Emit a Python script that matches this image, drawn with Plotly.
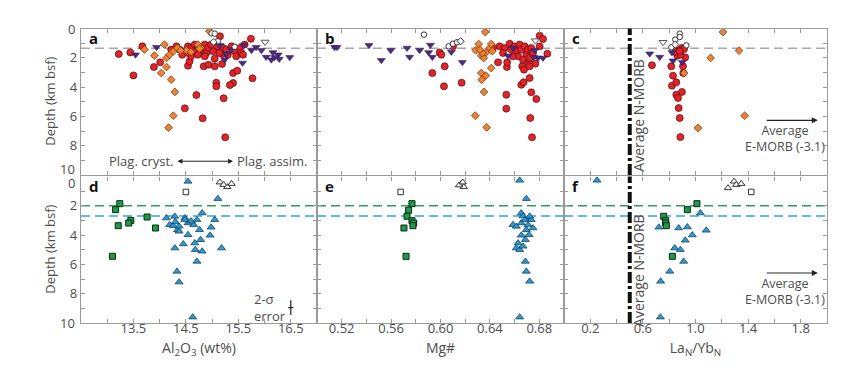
import plotly.graph_objects as go

# ---------------- DATA ----------------
# Panel a (Al2O3 wt%, depth km)
A_RED_X = [13.22,13.44,13.50,13.67,13.89,14.01,14.54,14.57,14.70,14.48,14.82,15.25,15.22,15.08,15.08,15.40,15.34,15.40,15.48,15.77,15.74,15.15,14.84,14.93,15.05,15.05,15.19,15.19,14.84,
           14.32,14.38,14.48,14.54,14.60,14.67,14.70,14.73,14.79,14.86,14.89,14.92,14.98,15.02,15.11,15.21,15.27,15.30,15.37,15.43,15.46,15.53,15.56,15.62,15.59,15.14,14.86,14.73,14.60,14.54,14.22,14.43]
A_RED_D = [1.74,1.63,3.20,1.22,2.63,2.31,2.54,2.24,4.54,5.45,6.13,7.43,4.76,3.70,3.95,3.72,3.86,3.04,2.88,3.40,0.70,0.53,2.58,2.47,2.58,2.06,2.42,1.74,1.63,
           1.22,1.44,1.56,1.22,1.33,1.10,1.56,1.22,1.44,1.10,1.67,1.33,1.10,1.56,1.22,1.33,1.44,1.79,1.22,1.56,1.90,1.33,1.67,1.10,1.79,1.67,1.90,1.79,1.90,1.67,1.44,1.79]
A_ORA_X = [14.95,14.09,13.90,13.71,14.13,14.03,14.22,14.29,14.26,14.17,14.13,14.19,14.26,14.34,14.51,14.79,14.73,14.60,14.40,14.76]
A_ORA_D = [0.19,1.10,1.85,1.44,2.63,3.04,3.49,4.33,5.95,6.77,2.01,1.79,1.56,1.33,1.49,1.33,1.10,1.60,1.50,1.38]
A_PUR_X = [13.54,13.94,15.24,15.58,15.60,15.15,15.75,15.84,15.94,16.03,16.13,16.16,16.26,16.28,16.48,16.19,15.27,15.37]
A_PUR_D = [1.79,1.28,2.13,2.35,1.15,1.15,1.49,1.28,1.49,1.95,2.13,1.63,1.79,2.08,1.97,1.97,1.74,1.44]
A_OCI_X = [14.99,15.05,15.43,15.11]
A_OCI_D = [0.33,0.35,1.25,0.87]
A_ODI_X = [15.03]
A_ODI_D = [0.92]
A_OTD_X = [16.01]
A_OTD_D = [0.92]

# Panel b (Mg#, depth)
B_RED_X = [0.5993,0.6007,0.5934,0.6034,0.6028,0.6171,0.6101,0.6466,0.6533,0.6533,0.6538,0.6540,0.6654,0.6673,0.6662,0.6676,0.6717,0.6735,0.6727,0.6741,
           0.6803,0.6830,0.6803,0.6865,0.6768,0.6776,0.6722,0.6722,
           0.6479,0.6520,0.6560,0.6601,0.6614,0.6641,0.6654,0.6682,0.6695,0.6709,0.6722,0.6628,0.6587,0.6506,0.6425,0.6735,0.6573,0.6668,0.6749]
B_RED_D = [1.63,1.79,3.04,2.58,3.95,3.70,1.22,2.31,4.52,5.47,2.63,2.31,3.84,3.67,2.58,2.81,2.35,4.36,6.11,7.43,
           0.49,0.72,1.22,1.72,2.40,4.81,3.38,2.58,
           1.22,1.33,1.04,1.22,1.56,1.10,1.44,1.22,1.79,1.44,2.01,1.90,1.90,1.67,1.33,1.33,1.44,2.13,1.67]
B_ORA_X = [0.6363,0.6309,0.6285,0.6330,0.6350,0.6370,0.6398,0.6411,0.6411,0.6330,0.6366,0.6334,0.6352,0.6282,0.6374,0.6339,0.6320,0.6420]
B_ORA_D = [0.24,1.06,1.49,1.86,2.01,1.63,1.33,1.06,2.70,3.04,3.22,3.49,4.33,5.95,6.75,1.67,1.44,1.55]
B_PUR_X = [0.5143,0.5162,0.5421,0.5521,0.5597,0.5729,0.5750,0.5831,0.5904,0.5918,0.5934,0.6088,0.6177,0.6547,0.6587,0.6790,0.6830,0.6763,0.6757]
B_PUR_D = [1.28,1.28,1.15,2.17,1.49,1.33,1.95,1.49,1.63,1.13,1.95,1.60,2.31,1.86,1.33,2.01,2.01,1.49,1.97]
B_OCI_X = [0.5866,0.6066,0.6101,0.6134]
B_OCI_D = [0.42,1.22,1.04,0.94]
B_ODI_X = [0.6163]
B_ODI_D = [0.87]
B_OTD_X = [0.6768]
B_OTD_D = [0.83]

# Panel c (La_N/Yb_N, depth)
C_RED_X = [0.669,0.816,0.829,0.821,0.854,0.854,0.867,0.897,0.872,0.880,0.885,0.862,0.872,0.897,0.913,0.922,0.885,0.905,0.907,0.850,0.880]
C_RED_D = [2.51,2.58,3.22,3.90,3.67,4.52,4.74,4.33,5.43,6.11,7.41,1.86,1.49,1.33,1.40,1.97,1.79,2.58,3.04,1.60,1.55]
C_ORA_X = [0.913,1.115,1.019,1.209,1.331,1.374]
C_ORA_D = [3.04,2.01,6.79,0.24,1.51,5.95]
C_PUR_X = [0.652,0.728,0.829,0.900,0.821]
C_PUR_D = [1.72,1.95,2.20,2.31,1.63]
C_OCI_X = [0.816,0.846,0.880,0.880,0.930]
C_OCI_D = [1.28,0.76,0.35,0.58,1.15]
C_ODI_X = [0.846]
C_ODI_D = [1.10]
C_OTD_X = [0.753]
C_OTD_D = [0.94]

# Panel d (Al2O3, depth)
D_BLU_X = [14.54,15.11,14.81,14.13,14.29,14.48,14.71,15.05,14.19,14.26,14.34,14.37,14.54,14.65,14.76,14.98,14.96,14.54,14.78,14.67,14.45,14.29,14.68,14.81,15.18,14.71,14.33,14.37,14.63,14.30,14.48,14.60,14.37]
D_BLU_D = [0.34,1.52,2.50,2.84,2.73,2.84,2.96,2.96,3.30,3.36,3.64,3.75,3.18,3.30,3.64,3.47,4.02,3.98,4.32,4.55,4.61,4.89,5.00,5.11,4.89,5.80,6.48,7.21,9.60,3.10,2.96,3.05,3.40]
D_GRN_X = [13.24,13.16,13.45,13.41,13.21,13.76,13.92,13.10]
D_GRN_D = [1.86,2.27,3.00,3.18,3.36,2.77,3.52,5.45]
D_OTR_X = [15.15,15.22,15.29,15.37]
D_OTR_D = [0.40,0.57,0.72,0.50]
D_OSQ_X = [14.50]
D_OSQ_D = [1.06]

# Panel e (Mg#, depth)
E_BLU_X = [0.6641,0.6695,0.6654,0.6668,0.6717,0.6587,0.6614,0.6654,0.6695,0.6654,0.6687,0.6628,0.6614,0.6641,0.6668,0.6717,0.6687,0.6695,0.6722,0.6641,0.6735,0.6709,0.6682,0.6749,0.6722]
E_BLU_D = [0.27,1.52,2.50,2.70,2.84,3.30,3.41,3.18,3.64,4.02,4.32,4.55,4.89,5.00,4.77,3.98,5.80,6.48,7.16,9.60,2.96,3.30,2.96,3.52,2.72]
E_GRN_X = [0.5769,0.5742,0.5729,0.5769,0.5783,0.5777,0.5704,0.5721]
E_GRN_D = [1.86,2.31,2.72,3.02,3.18,3.36,3.52,5.45]
E_OTR_X = [0.6168,0.6188,0.6150,0.6180]
E_OTR_D = [0.50,0.72,0.60,0.40]
E_OSQ_X = [0.5677]
E_OSQ_D = [1.06]

# Panel f (La_N/Yb_N, depth)
F_BLU_X = [0.251,1.037,0.722,0.872,0.938,1.082,0.976,0.922,0.842,0.885,0.910,0.804,0.735,0.733]
F_BLU_D = [0.27,2.50,3.47,3.52,3.45,3.68,4.00,4.36,4.89,5.00,5.80,6.48,7.16,9.60]
F_GRN_X = [1.011,0.938,0.758,0.773,0.773,0.778,0.824]
F_GRN_D = [1.86,2.27,2.72,3.02,3.18,3.36,5.45]
F_OTR_X = [1.247,1.293,1.310,1.348]
F_OTR_D = [0.79,0.34,0.57,0.50]
F_OSQ_X = [1.424]
F_OSQ_D = [1.06]

# reference lines / annotation values
TOP_DASH_DEPTH = 1.35
GREEN_DASH_DEPTH = 2.0
BLUE_DASH_DEPTH = 2.7
NMORB_LA_YB = 0.5
ERR_X, ERR_Y, ERR_DX, ERR_DY = 16.5, 8.95, 0.05, 0.5

X_RANGES = [[12.5, 17.0], [0.50, 0.70], [0.0, 2.0]]
X_MAJOR = [[13.5, 14.5, 15.5, 16.5], [0.52, 0.56, 0.60, 0.64, 0.68], [0.2, 0.6, 1.0, 1.4, 1.8]]
X_LABELS = [["13.5", "14.5", "15.5", "16.5"], ["0.52", "0.56", "0.60", "0.64", "0.68"], ["0.2", "0.6", "1.0", "1.4", "1.8"]]
X_MINOR = [[13.0, 14.0, 15.0, 16.0], [0.54, 0.58, 0.62, 0.66], [0.4, 0.8, 1.2, 1.6]]
Y_MAJOR = [2, 4, 6, 8]
Y_LABELS = ["2", "4", "6", "8"]
Y_MINOR = [1, 3, 5, 7, 9]
X_TITLES = ["Al<sub>2</sub>O<sub>3</sub> (wt%)", "Mg#", "La<sub>N</sub>/Yb<sub>N</sub>"]
PANEL_LETTERS = ["a", "b", "c", "d", "e", "f"]

# ---------------- FIGURE ----------------
W, H = 854, 369
FONT = "Open Sans"
TXT = "#4d4d4d"
AX = "#9a9a9a"

XDOM = [(73, 309), (309, 556), (556, 819)]
YDOM = [(20.5, 167), (168.4, 315)]

fig = go.Figure()

RED = dict(symbol="circle", size=7, color="#e52228", line=dict(width=0.7, color="#4a1010"))
ORA = dict(symbol="diamond", size=6, color="#f08032", line=dict(width=0.7, color="#5a3010"))
PUR = dict(symbol="triangle-down", size=7, color="#4b2a80", line=dict(width=0.5, color="#2a1545"))
OCI = dict(symbol="circle", size=5.5, color="white", line=dict(width=1, color="#333333"))
ODI = dict(symbol="diamond", size=5.5, color="white", line=dict(width=1, color="#333333"))
OTD = dict(symbol="triangle-down", size=7, color="white", line=dict(width=1, color="#555555"))
BLU = dict(symbol="triangle-up", size=7, color="#2a9ad6", line=dict(width=0.7, color="#123048"))
GRN = dict(symbol="square", size=6, color="#1f9a4a", line=dict(width=1, color="#0a2a14"))
OTR = dict(symbol="triangle-up", size=6.5, color="white", line=dict(width=1, color="#333333"))
OSQ = dict(symbol="square", size=5.5, color="white", line=dict(width=1, color="#333333"))

panels = {
    1: [(A_RED_X, A_RED_D, RED), (A_ORA_X, A_ORA_D, ORA), (A_PUR_X, A_PUR_D, PUR), (A_OCI_X, A_OCI_D, OCI), (A_ODI_X, A_ODI_D, ODI), (A_OTD_X, A_OTD_D, OTD)],
    2: [(B_RED_X, B_RED_D, RED), (B_ORA_X, B_ORA_D, ORA), (B_PUR_X, B_PUR_D, PUR), (B_OCI_X, B_OCI_D, OCI), (B_ODI_X, B_ODI_D, ODI), (B_OTD_X, B_OTD_D, OTD)],
    3: [(C_RED_X, C_RED_D, RED), (C_ORA_X, C_ORA_D, ORA), (C_PUR_X, C_PUR_D, PUR), (C_OCI_X, C_OCI_D, OCI), (C_ODI_X, C_ODI_D, ODI), (C_OTD_X, C_OTD_D, OTD)],
    4: [(D_GRN_X, D_GRN_D, GRN), (D_BLU_X, D_BLU_D, BLU), (D_OTR_X, D_OTR_D, OTR), (D_OSQ_X, D_OSQ_D, OSQ)],
    5: [(E_GRN_X, E_GRN_D, GRN), (E_BLU_X, E_BLU_D, BLU), (E_OTR_X, E_OTR_D, OTR), (E_OSQ_X, E_OSQ_D, OSQ)],
    6: [(F_GRN_X, F_GRN_D, GRN), (F_BLU_X, F_BLU_D, BLU), (F_OTR_X, F_OTR_D, OTR), (F_OSQ_X, F_OSQ_D, OSQ)],
}

for i in range(1, 7):
    sfx = "" if i == 1 else str(i)
    for xs, ds, mk in panels[i]:
        fig.add_trace(go.Scatter(x=xs, y=ds, mode="markers", marker=mk,
                                 xaxis="x" + sfx, yaxis="y" + sfx, hoverinfo="skip"))

# error bar in panel d
fig.add_trace(go.Scatter(x=[ERR_X], y=[ERR_Y], mode="markers", xaxis="x4", yaxis="y4",
                         marker=dict(size=1, color="rgba(0,0,0,0)"),
                         error_x=dict(type="data", array=[ERR_DX], width=0, thickness=1.2, color="#222"),
                         error_y=dict(type="data", array=[ERR_DY], width=0, thickness=1.2, color="#222"),
                         hoverinfo="skip"))

layout = dict(width=W, height=H, margin=dict(l=0, r=0, t=0, b=0),
              paper_bgcolor="white", plot_bgcolor="white", showlegend=False,
              font=dict(family=FONT, size=13, color=TXT))

for i in range(1, 7):
    row = 0 if i <= 3 else 1
    col = (i - 1) % 3
    sfx = "" if i == 1 else str(i)
    xd = XDOM[col]
    yd = YDOM[row]
    xa = dict(
        domain=[xd[0] / W, xd[1] / W], anchor="y" + sfx, range=X_RANGES[col],
        tickmode="array", tickvals=X_MAJOR[col], ticktext=X_LABELS[col],
        showticklabels=(row == 1),
        ticks="inside", ticklen=4, tickcolor=AX, tickwidth=1,
        minor=dict(tickvals=X_MINOR[col], ticks="inside", ticklen=4, tickcolor=AX, tickwidth=1, showgrid=False),
        showline=True, linecolor=AX, linewidth=1.3, mirror="ticks",
        showgrid=False, zeroline=False,
        tickfont=dict(family=FONT, size=13, color=TXT),
    )
    if row == 1:
        xa["ticklabelstandoff"] = -7
        xa["title"] = dict(text=X_TITLES[col], font=dict(family=FONT, size=14, color=TXT), standoff=7)
    layout["xaxis" + sfx] = xa
    layout["yaxis" + sfx] = dict(
        domain=[1 - yd[1] / H, 1 - yd[0] / H], anchor="x" + sfx, range=[10, 0],
        tickmode="array", tickvals=Y_MAJOR, ticktext=Y_LABELS,
        showticklabels=(col == 0),
        ticks="inside", ticklen=4, tickcolor=AX, tickwidth=1,
        minor=dict(tickvals=Y_MINOR, ticks="inside", ticklen=4, tickcolor=AX, tickwidth=1, showgrid=False),
        showline=True, linecolor=AX, linewidth=1.3, mirror="ticks",
        showgrid=False, zeroline=False,
        tickfont=dict(family=FONT, size=13, color=TXT),
    )
fig.update_layout(**layout)

shapes = []
for i in (1, 2, 3):
    sfx = "" if i == 1 else str(i)
    shapes.append(dict(type="line", xref="x" + sfx + " domain", yref="y" + sfx, x0=0, x1=1,
                       y0=TOP_DASH_DEPTH, y1=TOP_DASH_DEPTH, layer="below",
                       line=dict(color="#a8a8a8", width=1.5, dash="9px,5px")))
for i in (4, 5, 6):
    sfx = str(i)
    shapes.append(dict(type="line", xref="x" + sfx + " domain", yref="y" + sfx, x0=0, x1=1,
                       y0=GREEN_DASH_DEPTH, y1=GREEN_DASH_DEPTH, layer="below",
                       line=dict(color="#2aa05a", width=1.5, dash="9px,5px")))
    shapes.append(dict(type="line", xref="x" + sfx + " domain", yref="y" + sfx, x0=0, x1=1,
                       y0=BLUE_DASH_DEPTH, y1=BLUE_DASH_DEPTH, layer="below",
                       line=dict(color="#2aa6de", width=1.5, dash="9px,5px")))
for sfx in ("3", "6"):
    shapes.append(dict(type="line", xref="x" + sfx, yref="y" + sfx + " domain", x0=NMORB_LA_YB, x1=NMORB_LA_YB,
                       y0=0, y1=1, line=dict(color="#111111", width=4, dash="11px,3px,3px,3px")))
fig.update_layout(shapes=shapes)

ann = []
# panel letters
for i, letter in enumerate(PANEL_LETTERS, start=1):
    row = 0 if i <= 3 else 1
    col = (i - 1) % 3
    ann.append(dict(text="<b>%s</b>" % letter, xref="paper", yref="paper",
                    x=(XDOM[col][0] + 6) / W, y=1 - (YDOM[row][0] + 10) / H,
                    xanchor="left", yanchor="middle", showarrow=False,
                    font=dict(family=FONT, size=15, color="#111111")))
# y tick labels at the panel edges (0 and 10), nudged apart
for sfx, val, shift in (("", 0, 0), ("", 10, 6), ("4", 0, -7), ("4", 10, 0)):
    ann.append(dict(text=str(val), xref="paper", yref="y" + sfx, x=69 / W, y=val,
                    xanchor="right", yanchor="middle", yshift=shift, showarrow=False,
                    font=dict(family=FONT, size=13, color=TXT)))
# y titles
for row in (0, 1):
    ann.append(dict(text="Depth (km bsf)", xref="paper", yref="paper", x=42 / W,
                    y=1 - (YDOM[row][0] + YDOM[row][1]) / 2 / H, textangle=-90,
                    xanchor="center", yanchor="middle", showarrow=False,
                    font=dict(family=FONT, size=13, color=TXT)))
# plag arrow
ann.append(dict(x=15.40, y=9.06, ax=14.31, ay=9.06, xref="x", yref="y", axref="x", ayref="y",
                text="", showarrow=True, arrowhead=2, startarrowhead=2, arrowside="end+start",
                arrowsize=1, arrowwidth=1, arrowcolor="#222222"))
ann.append(dict(x=14.29, y=9.06, xref="x", yref="y", text="Plag. cryst.", xanchor="right",
                yanchor="middle", showarrow=False, font=dict(family=FONT, size=13, color=TXT)))
ann.append(dict(x=15.43, y=9.06, xref="x", yref="y", text="Plag. assim.", xanchor="left",
                yanchor="middle", showarrow=False, font=dict(family=FONT, size=13, color=TXT)))
# N-MORB labels
for sfx, dc in (("3", 5.9), ("6", 6.4)):
    ann.append(dict(x=0.568, y=dc, xref="x" + sfx, yref="y" + sfx, text="Average N-MORB", textangle=-90,
                    xanchor="center", yanchor="middle", showarrow=False,
                    font=dict(family=FONT, size=14, color=TXT)))
# E-MORB arrows
for sfx, ya, yt in (("3", 6.27, 7.53), ("6", 6.59, 7.86)):
    ann.append(dict(x=1.93, y=ya, ax=1.53, ay=ya, xref="x" + sfx, yref="y" + sfx,
                    axref="x" + sfx, ayref="y" + sfx, text="", showarrow=True, arrowhead=2,
                    arrowsize=1, arrowwidth=1.2, arrowcolor="#222222"))
    ann.append(dict(x=1.68, y=yt, xref="x" + sfx, yref="y" + sfx, text="Average<br>E-MORB (-3.1)",
                    showarrow=False, xanchor="center", yanchor="middle", align="center",
                    font=dict(family=FONT, size=12.5, color=TXT)))
# 2-sigma label
ann.append(dict(x=15.76, y=8.93, xref="x4", yref="y4", text="2-σ<br>error", xanchor="left", yanchor="middle",
                align="left", showarrow=False, font=dict(family=FONT, size=13, color=TXT)))
fig.update_layout(annotations=ann)

fig.write_html("out.html")
